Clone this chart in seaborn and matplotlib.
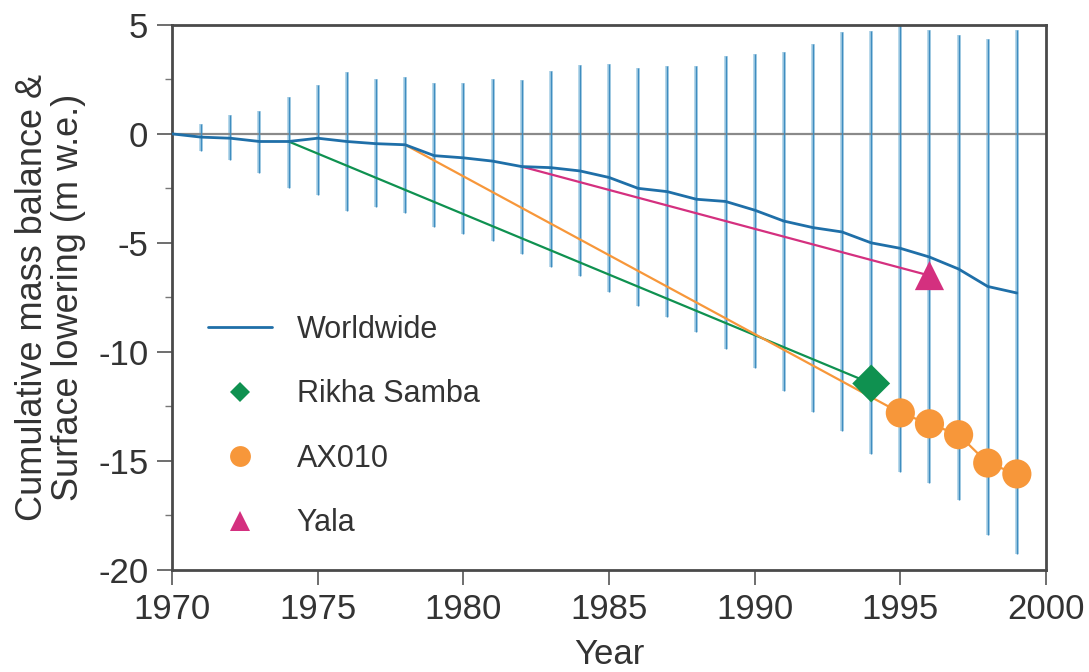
import matplotlib
matplotlib.use("Agg")
import matplotlib.pyplot as plt
import matplotlib.ticker as mticker
from matplotlib.lines import Line2D
import seaborn as sns

# ── data ──────────────────────────────────────────────────────────────────────
years = list(range(1970, 2000))
worldwide = [0.0, -0.15, -0.2, -0.35, -0.35, -0.2, -0.35, -0.45, -0.5, -1.0,
             -1.1, -1.25, -1.5, -1.55, -1.7, -2.0, -2.5, -2.65, -3.0, -3.1,
             -3.5, -4.0, -4.3, -4.5, -5.0, -5.25, -5.65, -6.2, -7.0, -7.3]

err_years = list(range(1971, 2000))
err_upper = [0.45, 0.85, 1.05, 1.7, 2.25, 2.85, 2.5, 2.6, 2.35, 2.35,
             2.5, 2.45, 2.9, 3.15, 3.2, 3.0, 3.1, 3.1, 3.55, 3.65,
             3.75, 4.1, 4.65, 4.7, 5.2, 4.75, 4.55, 4.35, 4.75]
err_lower = [-0.8, -1.2, -1.8, -2.5, -2.8, -3.55, -3.35, -3.65, -4.25, -4.6,
             -4.9, -5.5, -6.1, -6.5, -7.25, -7.9, -8.4, -9.1, -9.85, -10.75,
             -11.8, -12.75, -13.65, -14.7, -15.5, -16.0, -16.8, -18.4, -19.25]

rikha_years = [1974, 1994]
rikha_vals = [-0.35, -11.45]

ax010_years = [1978, 1995, 1996, 1997, 1998, 1999]
ax010_vals = [-0.5, -12.8, -13.3, -13.8, -15.1, -15.6]
ax010_pt_years = [1995, 1996, 1997, 1998, 1999]
ax010_pt_vals = [-12.8, -13.3, -13.8, -15.1, -15.6]

yala_years = [1982, 1996]
yala_vals = [-1.5, -6.5]

# ── colours ───────────────────────────────────────────────────────────────────
BLUE = "#1f6fa8"
BAR_LIGHT = "#a8cfe6"
BAR_DARK = "#3f8dc0"
GREEN = "#0f9150"
ORANGE = "#f7973a"
MAGENTA = "#d4307f"
INK = "#333333"

sns.set_theme(style="ticks")
plt.rcParams["font.family"] = ["Liberation Sans", "DejaVu Sans"]
plt.rcParams["axes.unicode_minus"] = False

fig = plt.figure(figsize=(10.89, 6.72), dpi=100)
ax = fig.add_axes([0.158, 0.152, 0.8025, 0.811])

# error bars: light halo + thin dark core
ax.vlines(err_years, err_lower, err_upper, color=BAR_LIGHT, lw=2.6, zorder=1)
ax.vlines(err_years, err_lower, err_upper, color=BAR_DARK, lw=1.0, zorder=1.5)

ax.axhline(0, color="#8a8a8a", lw=1.6, zorder=1.2)

sns.lineplot(x=rikha_years, y=rikha_vals, ax=ax, color=GREEN, lw=1.6, zorder=3)
sns.lineplot(x=ax010_years, y=ax010_vals, ax=ax, color=ORANGE, lw=1.6, zorder=3)
sns.lineplot(x=yala_years, y=yala_vals, ax=ax, color=MAGENTA, lw=1.6, zorder=3)
sns.lineplot(x=years, y=worldwide, ax=ax, color=BLUE, lw=2.0, zorder=4)

sns.scatterplot(x=[rikha_years[-1]], y=[rikha_vals[-1]], ax=ax, marker="D",
                s=14 ** 2 * 1.9, color=GREEN, edgecolor="none", zorder=5)
sns.scatterplot(x=ax010_pt_years, y=ax010_pt_vals, ax=ax, marker="o",
                s=21 ** 2, color=ORANGE, edgecolor="none", zorder=5)
sns.scatterplot(x=[yala_years[-1]], y=[yala_vals[-1]], ax=ax, marker="^",
                s=21 ** 2, color=MAGENTA, edgecolor="none", zorder=5)

ax.set_xlim(1970, 2000)
ax.set_ylim(-20, 5)
ax.xaxis.set_major_locator(mticker.MultipleLocator(5))
ax.yaxis.set_major_locator(mticker.MultipleLocator(5))
ax.yaxis.set_minor_locator(mticker.MultipleLocator(2.5))

for side in ["left", "right", "top", "bottom"]:
    ax.spines[side].set_visible(True)
    ax.spines[side].set_color("#4a4a4a")
    ax.spines[side].set_linewidth(2.0)
ax.tick_params(axis="both", which="major", direction="out", length=11,
               width=1.2, color="#555555", labelsize=25, labelcolor=INK, pad=6)
ax.tick_params(axis="y", which="minor", direction="out", length=5,
               width=1.0, color="#777777")
ax.tick_params(axis="x", which="minor", length=0)

ax.set_xlabel("Year", fontsize=25, color=INK, labelpad=8)
ax.set_ylabel("Cumulative mass balance &\nSurface lowering (m w.e.)",
              fontsize=26, color=INK, linespacing=1.05)
ax.yaxis.set_label_coords(-0.098, 0.5)

handles = [
    Line2D([], [], color=BLUE, lw=2.0),
    Line2D([], [], color=GREEN, marker="D", ls="none", markersize=10,
           markeredgewidth=0),
    Line2D([], [], color=ORANGE, marker="o", ls="none", markersize=15,
           markeredgewidth=0),
    Line2D([], [], color=MAGENTA, marker="^", ls="none", markersize=14,
           markeredgewidth=0),
]
labels = ["Worldwide", "Rikha Samba", "AX010", "Yala"]
leg = ax.legend(handles, labels, loc="upper left", bbox_to_anchor=(0.041, 0.468),
                frameon=False, fontsize=22, labelspacing=1.13,
                handlelength=2.1, handletextpad=0.8, borderpad=0,
                borderaxespad=0)
for t in leg.get_texts():
    t.set_color(INK)

fig.savefig("out.png", dpi=100)
